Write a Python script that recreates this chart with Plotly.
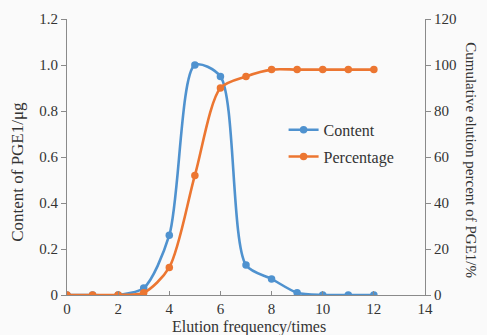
import plotly.graph_objects as go

elution = [0, 1, 2, 3, 4, 5, 6, 7, 8, 9, 10, 11, 12]
content = [0, 0, 0, 0.03, 0.26, 1.0, 0.95, 0.13, 0.07, 0.01, 0, 0, 0]
percentage = [0, 0, 0, 1, 12, 52, 90, 95, 98, 98, 98, 98, 98]

x_ticks = [0, 2, 4, 6, 8, 10, 12, 14]
y1_ticks = [0, 0.2, 0.4, 0.6, 0.8, 1.0, 1.2]
y1_text = ["0", "0.2", "0.4", "0.6", "0.8", "1.0", "1.2"]
y2_ticks = [0, 20, 40, 60, 80, 100, 120]

BLUE = "#4f92cf"
ORANGE = "#ec7631"
FONT = "Liberation Serif"
AX = "#8a8a8a"
TXT = "#333333"
FS = 15

fig = go.Figure()
fig.add_trace(go.Scatter(
    x=elution, y=content, name="Content", mode="lines+markers", legendgroup="a",
    line=dict(color=BLUE, width=2.6, shape="spline", smoothing=0.8),
    marker=dict(color=BLUE, size=7.5),
))
fig.add_trace(go.Scatter(
    x=elution, y=percentage, name="Percentage", mode="lines+markers", yaxis="y2",
    legendgroup="b",
    line=dict(color=ORANGE, width=2.6, shape="spline", smoothing=0.8),
    marker=dict(color=ORANGE, size=7.5),
))

fig.update_layout(
    width=487, height=335,
    margin=dict(l=67, r=62, t=19, b=40, autoexpand=False),
    paper_bgcolor="#fafafa", plot_bgcolor="#fafafa",
    font=dict(family=FONT, size=FS, color=TXT),
    showlegend=True,
    legend=dict(x=0.605, y=0.66, xanchor="left", yanchor="top",
                bgcolor="rgba(0,0,0,0)", font=dict(size=16, family=FONT, color=TXT),
                itemwidth=30, tracegroupgap=3),
    xaxis=dict(range=[0, 14], tickvals=x_ticks, showgrid=False, zeroline=False,
               showline=True, linecolor=AX, linewidth=1, ticks="inside", ticklen=4,
               tickcolor=AX, tickfont=dict(size=FS, family=FONT), automargin=False),
    yaxis=dict(range=[0, 1.2], tickvals=y1_ticks, ticktext=y1_text, showgrid=False,
               zeroline=False, showline=True, linecolor=AX, linewidth=1, ticks="outside",
               ticklen=5, tickcolor=AX, tickfont=dict(size=FS, family=FONT), automargin=False),
    yaxis2=dict(range=[0, 120], tickvals=y2_ticks, overlaying="y", side="right",
                showgrid=False, zeroline=False, showline=True, linecolor=AX, linewidth=1,
                ticks="outside", ticklen=5, tickcolor=AX, tickfont=dict(size=FS, family=FONT),
                automargin=False),
    annotations=[
        dict(text="Elution frequency/times",
             xref="paper", yref="paper", x=0.508, y=-0.116, showarrow=False,
             xanchor="center", yanchor="middle",
             font=dict(size=16, family=FONT, color=TXT)),
        dict(text="Content of PGE1/μg", textangle=-90,
             xref="paper", yref="paper", x=-0.137, y=0.446, showarrow=False,
             xanchor="center", yanchor="middle",
             font=dict(size=17, family=FONT, color=TXT)),
        dict(text="Cumulative elution percent of PGE1/%", textangle=90,
             xref="paper", yref="paper", x=1.128, y=0.489, showarrow=False,
             xanchor="center", yanchor="middle",
             font=dict(size=15, family=FONT, color=TXT)),
    ],
)

fig.write_html("out.html", config={"displayModeBar": False},
               post_script="document.body.style.margin='0px';")
